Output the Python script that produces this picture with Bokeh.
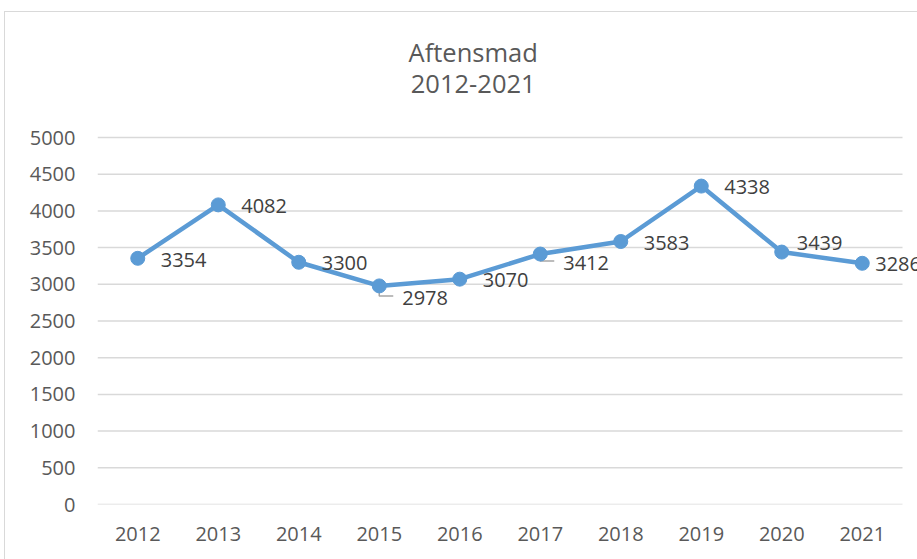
from bokeh.plotting import figure
from bokeh.models import ColumnDataSource, Range1d, FixedTicker, LabelSet
from bokeh.core.properties import value
from bokeh.embed import file_html
from bokeh.resources import INLINE

# ---- data ----
years = ["2012", "2013", "2014", "2015", "2016", "2017", "2018", "2019", "2020", "2021"]
values = [3354, 4082, 3300, 2978, 3070, 3412, 3583, 4338, 3439, 3286]
y_ticks = [0, 500, 1000, 1500, 2000, 2500, 3000, 3500, 4000, 4500, 5000]
title_lines = ["Aftensmad", "2012-2021"]

# label placement (screen px, to the right of each point; positive = down)
label_dx = [23, 23, 23, 23, 23, 23, 23, 23, 15, 13]
label_dy = [1.5, 1, 1, 12, 1, 9, 1.5, 1, -9, 1]
leader = [False, False, False, True, False, True, False, False, False, False]

FONT = "Open Sans"
W, H = 913, 548                 # canvas (placed at page 4, 11 via margin)
ML, MB = 92, 56                 # frame left / bottom border
PLOT_W = 805                    # width of the category area
PLOT_TOP = 125                  # canvas y of the top gridline
frame_w = W - ML
frame_h = H - MB

n = len(years)
idx = list(range(n))
ymax = y_ticks[-1]
px_per_x = PLOT_W / n
units_per_px_y = ymax / (frame_h - PLOT_TOP)
y_end = frame_h * units_per_px_y
x_start = -0.5
x_end = x_start + frame_w / px_per_x

p = figure(width=W, height=H, output_backend="svg", toolbar_location=None,
           x_range=Range1d(x_start, x_end), y_range=Range1d(0, y_end),
           min_border_left=ML, min_border_right=0, min_border_top=0,
           min_border_bottom=MB, title=None)
p.margin = (11, 0, 0, 4)
p.styles = {"border-top": "1px solid #d9d9d9", "border-left": "1px solid #d9d9d9"}
p.outline_line_color = None
p.background_fill_color = "white"
p.border_fill_color = "white"

# axes
p.xaxis.ticker = FixedTicker(ticks=idx)
p.xaxis.major_label_overrides = {i: y for i, y in zip(idx, years)}
p.yaxis.ticker = FixedTicker(ticks=y_ticks)
for ax in (p.xaxis[0], p.yaxis[0]):
    ax.axis_line_color = None
    ax.major_tick_line_color = None
    ax.minor_tick_line_color = None
    ax.major_tick_out = 0
    ax.major_tick_in = 0
    ax.major_label_text_font = FONT
    ax.major_label_text_font_size = "20px"
    ax.major_label_text_color = "#595959"
p.yaxis.major_label_standoff = 22
p.xaxis.major_label_standoff = 22

p.xgrid.grid_line_color = None
p.ygrid.grid_line_color = None
# horizontal gridlines across the category area only
p.segment(x0=[idx[0] - 0.5] * len(y_ticks), x1=[idx[-1] + 0.5] * len(y_ticks),
          y0=y_ticks, y1=y_ticks, line_color="#d9d9d9", line_width=1.5)

# leader lines (grey elbows from point to label)
px_x = 1.0 / px_per_x
lx, ly = [], []
for i, v in enumerate(values):
    if leader[i]:
        x0 = idx[i]
        y1 = v - (label_dy[i] - 2) * units_per_px_y
        lx.append([x0, x0, x0 + (label_dx[i] - 9) * px_x])
        ly.append([v, y1, y1])
if lx:
    p.multi_line(lx, ly, line_color="#a6a6a6", line_width=1.5)

src = ColumnDataSource(dict(x=idx, y=values, text=[str(v) for v in values],
                            dx=label_dx, dy=[-d for d in label_dy]))
p.line("x", "y", source=src, line_color="#5b9bd5", line_width=4.5, line_join="round")
p.scatter("x", "y", source=src, size=14, fill_color="#5b9bd5", line_color="#5b9bd5")

labels = LabelSet(x="x", y="y", text="text", source=src, x_offset="dx", y_offset="dy",
                  text_font=value(FONT), text_font_size=value("20px"),
                  text_color=value("#404040"), text_baseline=value("middle"),
                  text_align=value("left"))
p.add_layout(labels)

# title (two centred lines above the plot area)
title_cx = x_start + (467.7 - ML) / px_per_x
title_y = [y_end - 39.7 * units_per_px_y, y_end - 71.3 * units_per_px_y]
p.text(x=[title_cx] * len(title_lines), y=title_y, text=title_lines,
       text_font=value(FONT), text_font_size="25.5px", text_color="#595959",
       text_align="center", text_baseline="alphabetic")

open("out.html", "w").write(file_html(p, INLINE))
